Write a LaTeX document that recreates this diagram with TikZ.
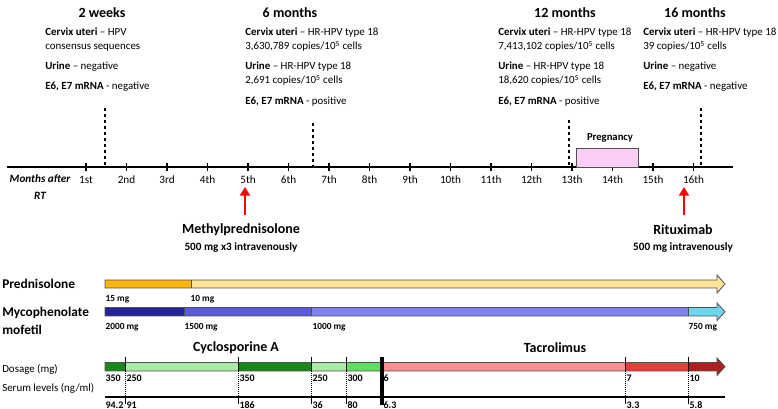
\documentclass[tikz,border=0pt]{standalone}
\usepackage{fontspec}
\setmainfont{Carlito}
\usetikzlibrary{positioning,arrows.meta}

\definecolor{predA}{RGB}{255,180,10}
\definecolor{predB}{RGB}{255,228,150}
\definecolor{mycA}{RGB}{35,35,160}
\definecolor{mycB}{RGB}{90,90,222}
\definecolor{mycC}{RGB}{128,128,240}
\definecolor{mycD}{RGB}{110,215,238}
\definecolor{cyA}{RGB}{25,135,25}
\definecolor{cyB}{RGB}{170,235,165}
\definecolor{cyC}{RGB}{95,222,95}
\definecolor{tacA}{RGB}{245,145,145}
\definecolor{tacB}{RGB}{238,58,58}
\definecolor{tacC}{RGB}{175,30,30}
\definecolor{pregfill}{RGB}{252,205,245}
\definecolor{barline}{RGB}{80,80,80}

\tikzset{
  hdr/.style={font=\fontsize{10.5}{12}\selectfont\bfseries},
  info/.style={anchor=north west, inner sep=0pt, align=left, font=\fontsize{8.2}{10.5}\selectfont},
  ticklbl/.style={font=\fontsize{8.4}{10}\selectfont},
  vdash/.style={line width=1.2pt, dash pattern=on 2.5pt off 2pt},
  drug/.style={font=\fontsize{10}{13}\selectfont\bfseries, anchor=west, inner sep=0pt},
  dose/.style={font=\fontsize{7}{8}\selectfont\bfseries, anchor=west, inner sep=1pt},
  treat/.style={font=\fontsize{10.5}{12}\selectfont\bfseries},
  treatsub/.style={font=\fontsize{8.4}{10}\selectfont\bfseries},
  redarrow/.style={red, line width=2.2pt, -{Triangle[length=6.5pt,width=7.5pt]}},
  rowlbl/.style={font=\fontsize{8.2}{10}\selectfont, anchor=west, inner sep=0pt},
  marker/.style={line width=0.5pt},
}

\begin{document}
\begin{tikzpicture}[x=0.75pt, y=-0.75pt]
\useasboundingbox (0,0) rectangle (778,409);

% headers
\node[hdr] (h2w) at (102,13) {2 weeks};
\node[hdr] (h6m) at (290,13) {6 months};
\node[hdr] (h12m) at (565,13) {12 months};
\node[hdr] (h16m) at (695,13) {16 months};

% findings
\node[info] (c2w) at (45,28) {\textbf{Cervix uteri} -- HPV\\consensus sequences};
\node[info] (u2w) at (45,62) {\textbf{Urine} -- negative};
\node[info] (e2w) at (45,82) {\textbf{E6, E7 mRNA} - negative};

\node[info] (c6m) at (245,28) {\textbf{Cervix uteri} -- HR-HPV type 18\\3,630,789 copies/10\textsuperscript{5} cells};
\node[info] (u6m) at (245,62) {\textbf{Urine} -- HR-HPV type 18\\2,691 copies/10\textsuperscript{5} cells};
\node[info] (e6m) at (245,97) {\textbf{E6, E7 mRNA} - positive};

\node[info] (c12m) at (498,28) {\textbf{Cervix uteri} -- HR-HPV type 18\\7,413,102 copies/10\textsuperscript{5} cells};
\node[info] (u12m) at (498,62) {\textbf{Urine} -- HR-HPV type 18\\18,620 copies/10\textsuperscript{5} cells};
\node[info] (e12m) at (498,97) {\textbf{E6, E7 mRNA} - positive};

\node[info] (c16m) at (643,28) {\textbf{Cervix uteri} -- HR-HPV type 18\\39 copies/10\textsuperscript{5} cells};
\node[info] (u16m) at (643,62) {\textbf{Urine} -- negative};
\node[info] (e16m) at (643,82) {\textbf{E6, E7 mRNA} - negative};

% time axis
\coordinate (ax0) at (7,167);
\coordinate (ax1) at (733,167);
\draw[line width=1.2pt] (ax0) -- (ax1);
\foreach \m/\lab in {1/1st,2/2nd,3/3rd,4/4th,5/5th,6/6th,7/7th,8/8th,9/9th,10/10th,11/11th,12/12th,13/13th,14/14th,15/15th,16/16th} {
  \draw[line width=1pt] ({86+40.5*(\m-1)},163) -- ++(0,8);
  \node[ticklbl] (m\m) at ({86+40.5*(\m-1)},180) {\lab};
}
\node[ticklbl, font=\fontsize{8.4}{13}\selectfont\bfseries\itshape, align=center] (axlbl) at (40,187) {Months after\\RT};

% sampling times
\coordinate (d2w) at (105,108);
\coordinate (d6m) at (313,123);
\coordinate (d12m) at (569,120);
\coordinate (d16m) at (701,108);
\foreach \d in {d2w,d6m,d12m,d16m}
  \draw[vdash] (\d) -- (\d |- ax0);

% pregnancy
\draw[fill=pregfill, line width=0.6pt, draw=barline] (576,148) rectangle (638,167);
\node[font=\fontsize{8}{9}\selectfont\bfseries] (preg) at (610,138) {Pregnancy};

% treatments
\node[treat] (methyl) at (241,230) {Methylprednisolone};
\node[treatsub] (methyldose) at (241,248) {500 mg x3 intravenously};
\node[treat] (ritux) at (683,230) {Rituximab};
\node[treatsub] (rituxdose) at (683,248) {500 mg intravenously};
\coordinate (am) at (245,215);
\coordinate (ar) at (684,215);
\draw[redarrow] (am) -- (245,187);
\draw[redarrow] (ar) -- (684,187);

% row labels
\node[drug] (pred) at (2,284) {Prednisolone};
\node[drug, align=left] (myc) at (2,321) {Mycophenolate\\mofetil};
\node[rowlbl] (dosage) at (2,369) {Dosage (mg)};
\node[rowlbl] (serum) at (2,388) {Serum levels (ng/ml)};

% prednisolone bar
\fill[predA] (105,280) rectangle (191,288);
\fill[predB] (191,280) rectangle (717,288);
\fill[predB] (717,275) -- (725,284) -- (717,293) -- cycle;
\draw[barline, line width=0.6pt] (105,280) -- (717,280) -- (717,275) -- (725,284) -- (717,293) -- (717,288) -- (105,288) -- cycle;
\draw[barline, line width=0.6pt] (191,280) -- (191,288);
\node[dose] (p15) at (104,299) {15 mg};
\node[dose] (p10) at (189,299) {10 mg};

% mycophenolate bar
\foreach \a/\b/\c in {105/184/mycA, 184/311/mycB, 311/688/mycC, 688/717/mycD}
  \fill[\c] (\a,307.5) rectangle (\b,316);
\fill[mycD] (717,303) -- (725,311.7) -- (717,320.5) -- cycle;
\draw[barline, line width=0.6pt] (105,307.5) -- (717,307.5) -- (717,303) -- (725,311.7) -- (717,320.5) -- (717,316) -- (105,316) -- cycle;
\foreach \a in {184,311,688}
  \draw[barline, line width=0.6pt] (\a,307.5) -- (\a,316);
\node[dose] (m2000) at (104,327) {2000 mg};
\node[dose] (m1500) at (183,327) {1500 mg};
\node[dose] (m1000) at (311,327) {1000 mg};
\node[dose] (m750) at (687,327) {750 mg};

% calcineurin inhibitors
\node[treat] (cya) at (236,348) {Cyclosporine A};
\node[treat] (tac) at (555,348) {Tacrolimus};
\foreach \a/\b/\c in {105/125/cyA, 125/238/cyB, 238/311/cyA, 311/346/cyB, 346/382/cyC, 382/625/tacA, 625/688/tacB, 688/717/tacC}
  \fill[\c] (\a,362.5) rectangle (\b,371);
\fill[tacC] (717,358) -- (725,366.7) -- (717,375.5) -- cycle;
\draw[barline, line width=0.6pt] (105,362.5) -- (717,362.5) -- (717,358) -- (725,366.7) -- (717,375.5) -- (717,371) -- (105,371) -- cycle;

% serum level line
\coordinate (s0) at (105,397);
\coordinate (s1) at (725,397);
\draw[line width=1pt] (s0) -- (s1);

% change points
\foreach \a in {125,238,311,346,625,688} {
  \draw[marker] (\a,357) -- (\a,371);
  \draw[marker, densely dotted] (\a,371) -- (\a,397);
  \draw[marker] (\a,397) -- (\a,404);
}
\draw[line width=3pt] (382,357) -- (382,405);

% dosages and levels
\foreach \a/\v/\s [count=\i] in {104/350/94.2, 125/250/91, 238/350/186, 311/250/36, 346/300/80, 382/6/6.3, 625/7/3.3, 688/10/5.8} {
  \node[dose, font=\fontsize{7.5}{8}\selectfont\bfseries] (dv\i) at (\a,378) {\v};
  \node[dose, font=\fontsize{7.5}{8}\selectfont\bfseries] (sv\i) at (\a,405) {\s};
}
\end{tikzpicture}
\end{document}
